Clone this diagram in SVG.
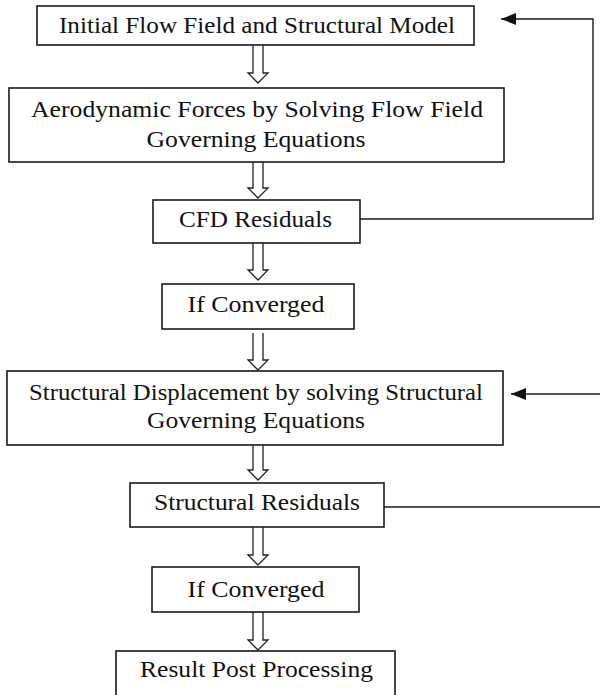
<svg xmlns="http://www.w3.org/2000/svg" width="600" height="695" viewBox="0 0 600 695">
<defs>
<style>
.box{fill:#fff;stroke:#1a1a1a;stroke-width:1.6}
.lbl{font-family:"Liberation Serif","Times New Roman",serif;font-size:22.5px;fill:#111;text-anchor:middle}
.hollow{fill:#fff;stroke:#222;stroke-width:1.3;stroke-linejoin:miter}
.line{fill:none;stroke:#1a1a1a;stroke-width:1.4}
</style>
<marker id="ah" markerUnits="userSpaceOnUse" markerWidth="16" markerHeight="14" refX="15" refY="7" orient="auto">
<path d="M0,1 L15,7 L0,13 Z" fill="#111"/>
</marker>
</defs>
<rect width="600" height="695" fill="#fff"/>
<g id="connectors">
<path class="hollow" d="M253,45 V73 H248 L258,83 L268,73 H263 V45"/>
<path class="hollow" d="M253,162 V188 H248 L258,198 L268,188 H263 V162"/>
<path class="hollow" d="M253,243 V270 H248 L258,280 L268,270 H263 V243"/>
<path class="hollow" d="M253,333 V360 H248 L258,370 L268,360 H263 V333"/>
<path class="hollow" d="M253,445 V470 H248 L258,480 L268,470 H263 V445"/>
<path class="hollow" d="M253,527 V555 H248 L258,565 L268,555 H263 V527"/>
<path class="hollow" d="M253,612 V640 H248 L258,650 L268,640 H263 V612"/>
<path class="line" d="M360,219 H593 V19 H501" marker-end="url(#ah)"/>
<path class="line" d="M600,394 H511" marker-end="url(#ah)"/>
<path class="line" d="M384,507 H600"/>
</g>
<g id="n1">
<rect class="box" x="37" y="6" width="437" height="39"/>
<text class="lbl" x="257" y="33" textLength="396" lengthAdjust="spacingAndGlyphs">Initial Flow Field and Structural Model</text>
</g>
<g id="n2">
<rect class="box" x="9" y="88" width="495" height="74"/>
<text class="lbl" x="257" y="117" textLength="452" lengthAdjust="spacingAndGlyphs">Aerodynamic Forces by Solving Flow Field</text>
<text class="lbl" x="256" y="147" textLength="219" lengthAdjust="spacingAndGlyphs">Governing Equations</text>
</g>
<g id="n3">
<rect class="box" x="153" y="200" width="207" height="43"/>
<text class="lbl" x="255.5" y="227" textLength="153" lengthAdjust="spacingAndGlyphs">CFD Residuals</text>
</g>
<g id="n4">
<rect class="box" x="162" y="284" width="192" height="45"/>
<text class="lbl" x="256" y="312" textLength="137" lengthAdjust="spacingAndGlyphs">If Converged</text>
</g>
<g id="n5">
<rect class="box" x="7" y="371" width="496" height="74"/>
<text class="lbl" x="256" y="400" textLength="454" lengthAdjust="spacingAndGlyphs">Structural Displacement by solving Structural</text>
<text class="lbl" x="256" y="428" textLength="218" lengthAdjust="spacingAndGlyphs">Governing Equations</text>
</g>
<g id="n6">
<rect class="box" x="130" y="483" width="254" height="44"/>
<text class="lbl" x="257" y="510" textLength="206" lengthAdjust="spacingAndGlyphs">Structural Residuals</text>
</g>
<g id="n7">
<rect class="box" x="152" y="567" width="207" height="45"/>
<text class="lbl" x="256" y="597" textLength="137" lengthAdjust="spacingAndGlyphs">If Converged</text>
</g>
<g id="n8">
<rect class="box" x="116" y="651" width="279" height="60"/>
<text class="lbl" x="256.5" y="677" textLength="233" lengthAdjust="spacingAndGlyphs">Result Post Processing</text>
</g>
</svg>
